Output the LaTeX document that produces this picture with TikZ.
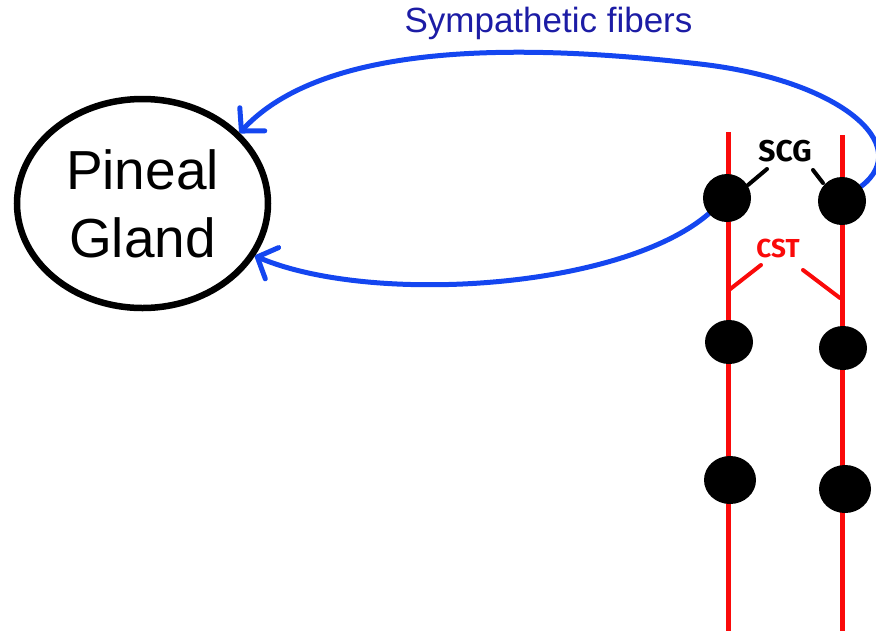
\documentclass[tikz,border=0pt]{standalone}
\usepackage{fontspec}
\setmainfont{Liberation Sans}
\newfontfamily\handfont{Fira Sans}
\usetikzlibrary{shapes.geometric,arrows.meta,backgrounds}
\definecolor{fiberblue}{RGB}{20,70,240}
\definecolor{labelblue}{RGB}{28,28,165}
\definecolor{tractred}{RGB}{250,10,10}
\tikzset{
  gland/.style={ellipse,draw=black,line width=6.5pt,minimum width=251pt,minimum height=209pt,
    inner sep=0pt,align=center,font=\fontsize{55}{68}\selectfont},
  ganglion/.style={ellipse,fill=black,draw=none,inner sep=0pt},
  tract/.style={draw=tractred,line width=5pt},
  fiber/.style={draw=fiberblue,line width=5pt,line cap=round,
    -{Straight Barb[length=16pt,width=34pt,line cap=round,line join=round]}},
  tick/.style={line width=4pt,line cap=round},
  hand/.style={font=\handfont\bfseries\fontsize{30}{30}\selectfont}
}
\begin{document}
\begin{tikzpicture}[x=1pt,y=-1pt]
\useasboundingbox (0,0) rectangle (876,630);

% pineal gland
\node[gland] (pg) at (142.5,203.5) {Pineal\\Gland};

% ganglia of the two sympathetic trunks
\node[ganglion,minimum width=48pt,minimum height=48pt] (tl) at (727,198) {};
\node[ganglion,minimum width=48pt,minimum height=48pt] (tr) at (842,201) {};
\node[ganglion,minimum width=48pt,minimum height=44pt] (ml) at (729,342) {};
\node[ganglion,minimum width=48pt,minimum height=44pt] (mr) at (843,348) {};
\node[ganglion,minimum width=52pt,minimum height=48pt] (bl) at (730,480) {};
\node[ganglion,minimum width=52pt,minimum height=48pt] (br) at (845,489) {};

% trunks and fibers run behind the ganglia
\coordinate (ltop) at (728,132);
\coordinate (lbot) at (728,634);
\coordinate (rtop) at (842,135);
\coordinate (rbot) at (842,634);
\coordinate (arcTop) at (700,64);
\begin{pgfonlayer}{background}
\draw[tract] (ltop) -- (lbot);
\draw[tract] (rtop) -- (rbot);
\draw[fiber] (tr) .. controls (915,145) and (840,80) .. (arcTop)
  .. controls (560,48) and (332,33) .. (pg.36.5);
\draw[fiber] (tl) .. controls (620,290) and (370,305) .. (pg.-25);
\end{pgfonlayer}

\node[text=labelblue,font=\fontsize{35}{35}\selectfont,anchor=base] (sf) at (548.5,32) {Sympathetic fibers};

% SCG label and pointers
\node[hand,text=black] (scg) at (785,151) {SCG};
\coordinate (scgL1) at (767,169);
\coordinate (scgL2) at (748,185);
\coordinate (scgR1) at (813,170);
\coordinate (scgR2) at (823,183);
\draw[tick,black] (scgL1) -- (scgL2);
\draw[tick,black] (scgR1) -- (scgR2);

% CST label and branches
\node[hand,text=tractred,font=\handfont\bfseries\fontsize{26}{26}\selectfont] (cst) at (778,248) {CST};
\coordinate (cstL1) at (761,265);
\coordinate (cstL2) at (729,290);
\coordinate (cstR1) at (803,270);
\coordinate (cstR2) at (840,298);
\draw[tick,tractred] (cstL1) -- (cstL2);
\draw[tick,tractred] (cstR1) -- (cstR2);
\end{tikzpicture}
\end{document}
